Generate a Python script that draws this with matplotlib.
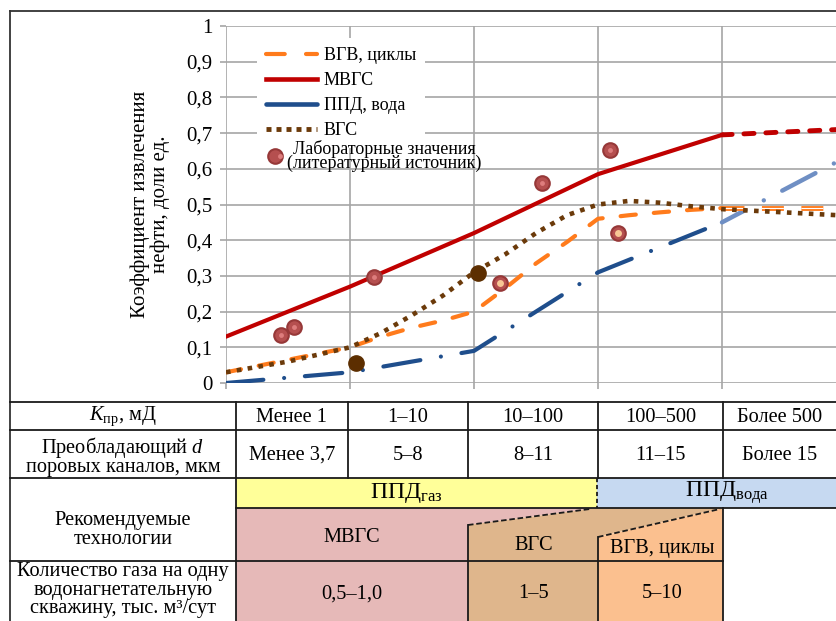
import matplotlib
matplotlib.use("Agg")
import matplotlib.pyplot as plt
from matplotlib.lines import Line2D
from matplotlib.patches import Polygon, Rectangle
from matplotlib.legend_handler import HandlerTuple

plt.rcParams['font.family'] = ['Liberation Serif', 'DejaVu Serif']
plt.rcParams['mathtext.fontset'] = 'custom'
plt.rcParams['mathtext.rm'] = 'Liberation Serif'
plt.rcParams['mathtext.it'] = 'Liberation Serif:italic'
plt.rcParams['lines.scale_dashes'] = False

W, H = 837, 621

# ===== Data (x: 0..4 = boundaries of permeability classes) =====
mvgs_x = [0, 1, 2, 3, 4]
mvgs_y = [0.13, 0.27, 0.42, 0.585, 0.695]
mvgs_ext_x = [4, 4.93]
mvgs_ext_y = [0.695, 0.71]

vgv_x = [0, 0.5, 1, 1.25, 1.5, 1.75, 2, 2.25, 2.5, 2.75, 3, 3.25, 3.5, 3.75, 4]
vgv_y = [0.03, 0.065, 0.1, 0.13, 0.155, 0.175, 0.2, 0.265, 0.335, 0.395, 0.46,
         0.47, 0.478, 0.485, 0.49]
vgv_ext_x = [4, 4.93]
vgv_ext_y = [0.49, 0.49]

ppd_x = [0, 1, 2, 3, 4]
ppd_y = [0.0, 0.03, 0.09, 0.31, 0.45]
ppd_ext_x = [4, 4.93]
ppd_ext_y = [0.45, 0.62]

vgs_x = [0, 0.5, 1, 1.25, 1.5, 1.75, 2, 2.25, 2.5, 2.75, 3, 3.25, 3.5, 3.75, 4,
         4.5, 4.93]
vgs_y = [0.03, 0.06, 0.1, 0.14, 0.19, 0.245, 0.31, 0.36, 0.42, 0.47, 0.5, 0.51,
         0.505, 0.495, 0.487, 0.478, 0.47]

lab_x = [0.44, 0.55, 1.19, 2.55, 3.1]
lab_y = [0.134, 0.157, 0.297, 0.56, 0.653]
lab2_x = [2.21, 3.16]
lab2_y = [0.28, 0.42]
core_x = [1.05, 2.03]
core_y = [0.056, 0.308]

y_ticks = [0, 0.1, 0.2, 0.3, 0.4, 0.5, 0.6, 0.7, 0.8, 0.9, 1.0]
y_tick_labels = ['0', '0,1', '0,2', '0,3', '0,4', '0,5', '0,6', '0,7', '0,8',
                 '0,9', '1']

perm_labels = ['Менее 1', '1–10', '10–100', '100–500', 'Более 500']
pore_labels = ['Менее 3,7', '5–8', '8–11', '11–15', 'Более 15']
row_headers = [r'$K_{\mathrm{пр}}$, мД',
               'Преобладающий $d$\nпоровых каналов, мкм',
               'Рекомендуемые\nтехнологии',
               'Количество газа на одну\nводонагнетательную\nскважину, тыс. м³/сут']
tech_labels = ['МВГС', 'ВГС', 'ВГВ, циклы']
gas_labels = ['0,5–1,0', '1–5', '5–10']

RED = '#c00000'
ORANGE = '#ff7b1c'
BLUE = '#1f4e8c'
BROWN = '#6b3a0a'
GRID = '#a6a6a6'

fig = plt.figure(figsize=(W / 100, H / 100), dpi=100)

# ===== Table / frame (pixel coordinates) =====
tax = fig.add_axes([0, 0, 1, 1], zorder=0)
tax.set_xlim(0, W)
tax.set_ylim(H, 0)
tax.axis('off')

cols = [10, 236, 348, 468, 598, 723, W]
rows = [402, 430, 478, 508, 561, H]
lc = '#1a1a1a'
lw_t = 1.3

# coloured areas
tax.add_patch(Rectangle((236, 478), 597 - 236, 30, fc='#ffff99', ec='none'))
tax.add_patch(Rectangle((597, 478), W - 597, 30, fc='#c6d9f1', ec='none'))
tax.add_patch(Polygon([(236, 508), (597, 508), (468, 525), (468, H), (236, H)],
                      fc='#e6b9b8', ec='none'))
tax.add_patch(Polygon([(468, 525), (597, 508), (723, 508), (598, 537), (598, H),
                       (468, H)], fc='#dfb68c', ec='none'))
tax.add_patch(Polygon([(598, 537), (723, 508), (723, H), (598, H)],
                      fc='#fbc08f', ec='none'))

# outer frame
tax.plot([10, W], [11, 11], color='#333333', lw=1.3)
tax.plot([10, 10], [11, H], color='#333333', lw=1.3)

# horizontal rules
for yy in rows[:3]:
    tax.plot([10, W], [yy, yy], color=lc, lw=lw_t)
tax.plot([236, W], [508, 508], color=lc, lw=lw_t)
tax.plot([10, 723], [561, 561], color=lc, lw=lw_t)

# vertical rules
for xx in cols[1:6]:
    tax.plot([xx, xx], [402, 478], color=lc, lw=lw_t)
tax.plot([236, 236], [478, H], color=lc, lw=lw_t)
tax.plot([468, 468], [525, H], color=lc, lw=lw_t)
tax.plot([598, 598], [537, H], color=lc, lw=lw_t)
tax.plot([723, 723], [508, H], color=lc, lw=lw_t)
tax.plot([597, 597], [478, 508], color=lc, lw=lw_t, ls=(0, (3, 2)))
tax.plot([468, 590], [525, 509], color=lc, lw=lw_t, ls=(0, (4, 2)))
tax.plot([598, 720], [537, 509], color=lc, lw=lw_t, ls=(0, (4, 2)))

fs_t = 14.7
for i in range(5):
    cx = (cols[i + 1] + cols[i + 2]) / 2
    tax.text(cx, 417, perm_labels[i], ha='center', va='center', fontsize=fs_t)
    tax.text(cx, 455, pore_labels[i], ha='center', va='center', fontsize=fs_t)

hx = (10 + 236) / 2
tax.text(hx, 416, row_headers[0], ha='center', va='center', fontsize=fs_t)
tax.text(hx, 456, row_headers[1], ha='center', va='center', fontsize=fs_t,
         linespacing=0.85)
tax.text(hx, 530, row_headers[2], ha='center', va='center', fontsize=fs_t,
         linespacing=1.0)
tax.text(hx, 590, row_headers[3], ha='center', va='center', fontsize=fs_t,
         linespacing=0.95)

tax.text(406, 493, r'ППД$_{\mathrm{газ}}$', ha='center', va='center', fontsize=17)
tax.text(727, 493, r'ППД$_{\mathrm{вода}}$', ha='center', va='center', fontsize=17)

tech_x = [352, 534, 662]
tech_y = [537, 546, 549]
for i in range(3):
    tax.text(tech_x[i], tech_y[i], tech_labels[i], ha='center', va='center',
             fontsize=fs_t)
    tax.text(tech_x[i], 594, gas_labels[i], ha='center', va='center',
             fontsize=fs_t)

# ===== Chart =====
ax = fig.add_axes([226 / W, (H - 383) / H, (W - 226) / W, 357 / H], zorder=2)
ax.patch.set_alpha(0)
ax.set_xlim(0, (W - 226) / 124)
ax.set_ylim(0, 1)
for s in ax.spines.values():
    s.set_visible(False)
ax.set_xticks([0, 1, 2, 3, 4])
ax.set_xticklabels([])
ax.set_yticks(y_ticks)
ax.set_yticklabels(y_tick_labels, fontsize=15)
ax.tick_params(length=4.5, width=1.2, color=GRID, pad=5)
ax.grid(True, color=GRID, lw=1.2)
ax.set_axisbelow(True)
ax.set_ylabel('Коэффициент извлечения\nнефти, доли ед.', fontsize=15,
              labelpad=12, linespacing=1.05)

ax.plot(ppd_x, ppd_y, color=BLUE, lw=3, ls=(0, (27, 15, 0.01, 15)),
        dash_capstyle='round')
ax.plot(ppd_ext_x, ppd_ext_y, color='#6f8fc4', lw=3.2, ls=(8, (27, 15, 0.01, 15)),
        dash_capstyle='round')
ax.plot(vgv_x, vgv_y, color=ORANGE, lw=3, ls=(0, (11, 13)),
        dash_capstyle='round')
ax.plot(vgv_ext_x, vgv_ext_y, color=ORANGE, lw=3.5, ls=(0, (15.8, 12.6)))
ax.plot(vgv_ext_x, vgv_ext_y, color='white', lw=0.8, ls=(0, (15.8, 12.6)))
ax.plot(vgs_x, vgs_y, color=BROWN, lw=3.3, ls=(0, (3.3, 4.6)))
ax.plot(mvgs_x, mvgs_y, color=RED, lw=3)
ax.plot(mvgs_ext_x, mvgs_ext_y, color=RED, lw=3.5, ls=(0, (7.3, 8.5)),
        dash_capstyle='round')

ax.plot(lab_x, lab_y, 'o', ms=10.5, mfc='#b54f4f', mec='#963838', mew=1.5)
ax.plot(lab_x, lab_y, 'o', ms=3.5, mfc='#de7d7d', mec='none')
ax.plot(lab2_x, lab2_y, 'o', ms=10.5, mfc='#b54f4f', mec='#963838', mew=1.5)
ax.plot(lab2_x, lab2_y, 'o', ms=5, mfc='#f8c795', mec='none')
ax.plot(core_x, core_y, 'o', ms=11, color='#5c2e00')

# ===== Legend =====
h_vgv = Line2D([], [], color=ORANGE, lw=3, ls=(0, (13.5, 15.3)),
               dash_capstyle='round')
h_mvgs = Line2D([], [], color=RED, lw=3.3)
h_ppd = Line2D([], [], color=BLUE, lw=3.3, solid_capstyle='round')
h_vgs = Line2D([], [], color=BROWN, lw=3.5, ls=(0, (3.6, 3.6)))
leg1 = ax.legend([h_vgv, h_mvgs, h_ppd, h_vgs],
                 ['ВГВ, циклы', 'МВГС', 'ППД, вода', 'ВГС'],
                 loc='upper left', bbox_to_anchor=(257 / W, 1 - 38 / H),
                 bbox_transform=fig.transFigure, fontsize=13,
                 handlelength=2.8, handletextpad=0.4, labelspacing=0.45,
                 borderpad=0.5, borderaxespad=0, frameon=True, fancybox=False,
                 edgecolor='none', facecolor='white', framealpha=1)
ax.add_artist(leg1)

h_lab_o = Line2D([], [], ls='none', marker='o', ms=10.5, mfc='#b54f4f',
                 mec='#963838', mew=1.5)
h_lab_i = Line2D([], [], ls='none', marker='o', ms=3.5, mfc='#de7d7d', mec='none')
leg2 = ax.legend([(h_lab_o, h_lab_i)],
                 ['Лабораторные значения\n(литературный источник)'],
                 handler_map={tuple: HandlerTuple(ndivide=None)},
                 loc='upper left', bbox_to_anchor=(272 / W, 1 - 140 / H),
                 bbox_transform=fig.transFigure, fontsize=13,
                 handlelength=0.6, handletextpad=0.25, borderpad=0,
                 borderaxespad=0, frameon=False)
for t in leg2.get_texts():
    t.set_multialignment('center')
    t.set_linespacing(0.75)

fig.savefig('out.png', dpi=100, facecolor='white')
